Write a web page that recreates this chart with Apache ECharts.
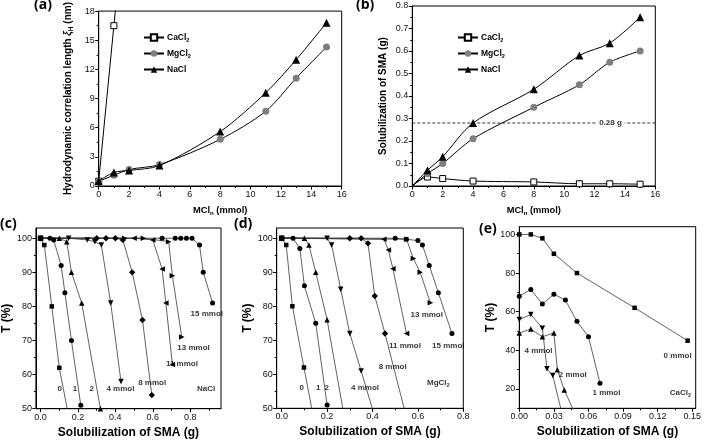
<!DOCTYPE html>
<html><head><meta charset="utf-8">
<script src="https://cdn.jsdelivr.net/npm/echarts@6/dist/echarts.min.js"></script>
<style>html,body{margin:0;padding:0;background:#fff}#c{width:704px;height:440px}</style>
</head><body><div id="c"></div><script>
// ---------- DATA ----------
const saltMmol = [0, 1, 2, 4, 8, 11, 13, 15];
// (a) hydrodynamic correlation length (nm)
const xiCaX = [0, 1, 1.2];
const xiCa  = [0.5, 16.5, 19.7];
const xiMg  = [0.5, 1.1, 1.7, 2.2, 4.8, 7.7, 11.1, 14.3];
const xiNa  = [0.5, 1.4, 1.6, 2.1, 5.6, 9.6, 13.0, 16.8];
// (b) solubilization of SMA (g)
const solCa = [0, 0.04, 0.033, 0.022, 0.018, 0.01, 0.01, 0.008];
const solMg = [0, 0.055, 0.10, 0.21, 0.35, 0.45, 0.55, 0.60];
const solNa = [0, 0.07, 0.13, 0.28, 0.43, 0.58, 0.635, 0.75];
const solLimit = 0.28;
const solLimitText = '0.28 g';
// (c) NaCl : transmittance vs solubilization
const naclNames = ['0', '1', '2', '4 mmol', '8 mmol', '11 mmol', '13 mmol', '15 mmol'];
const naclSol = [
  [0, 0.02, 0.06, 0.10, 0.16],
  [0, 0.05, 0.07, 0.11, 0.13, 0.165, 0.215],
  [0, 0.10, 0.14, 0.165, 0.22, 0.32],
  [0, 0.15, 0.25, 0.29, 0.325, 0.375, 0.43],
  [0, 0.30, 0.35, 0.40, 0.44, 0.49, 0.545, 0.595],
  [0, 0.50, 0.60, 0.65, 0.67, 0.705],
  [0, 0.45, 0.55, 0.685, 0.705, 0.755],
  [0, 0.65, 0.72, 0.75, 0.78, 0.81, 0.85, 0.87, 0.92]
];
const naclT = [
  [100, 98, 80, 62, 45],
  [100, 100, 99.5, 92, 84, 70, 51],
  [100, 100, 99, 90, 81, 50],
  [100, 100, 99.5, 99, 98, 81, 58],
  [100, 100, 100, 100, 99.5, 90, 76, 54],
  [100, 100, 99.5, 91, 81, 63],
  [100, 100, 100, 99, 89, 71],
  [100, 100, 100, 100, 100, 100, 98, 90, 81]
];
const naclTagText = ['0', '1', '2', '4 mmol', '8 mmol', '11 mmol', '13 mmol', '15 mmol', 'NaCl'];
const naclTagX = [0.103, 0.184, 0.273, 0.427, 0.597, 0.756, 0.818, 0.889, 0.885];
const naclTagT = [55.7, 55.7, 55.7, 55.7, 57.5, 63.1, 67.8, 77.8, 55.7];
// (d) MgCl2
const mgNames = ['0', '1', '2', '4 mmol', '8 mmol', '11 mmol', '13 mmol', '15 mmol'];
const mgSol = [
  [0, 0.02, 0.047, 0.098, 0.155],
  [0, 0.05, 0.08, 0.10, 0.15, 0.20],
  [0, 0.10, 0.12, 0.15, 0.20, 0.285],
  [0, 0.20, 0.22, 0.26, 0.30, 0.35, 0.43],
  [0, 0.30, 0.35, 0.38, 0.41, 0.455, 0.57],
  [0, 0.45, 0.47, 0.49, 0.55],
  [0, 0.55, 0.58, 0.61, 0.655],
  [0, 0.50, 0.55, 0.60, 0.62, 0.65, 0.69, 0.75]
];
const mgT = [
  [100, 98, 80, 62, 42],
  [100, 100, 97, 86, 75, 51],
  [100, 100, 98, 90, 76, 44],
  [100, 100, 98, 85, 72, 61, 43],
  [100, 100, 100, 98.5, 83, 72, 42],
  [100, 99.7, 96.5, 91, 72],
  [100, 99.7, 94, 90, 81],
  [100, 100, 99.7, 99.3, 98, 92, 84, 72]
];
const mgTagText = ['0', '1', '2', '4 mmol', '8 mmol', '11 mmol', '15 mmol', '13 mmol', 'MgCl2'];
const mgTagX = [0.088, 0.161, 0.198, 0.367, 0.489, 0.543, 0.734, 0.639, 0.69];
const mgTagT = [56.1, 56.1, 56.1, 56.1, 62.1, 68.4, 68.4, 77.6, 57.4];
// (e) CaCl2
const caNames = ['0 mmol', '1 mmol', '2 mmol', '4 mmol'];
const caSol = [
  [0, 0.01, 0.02, 0.03, 0.05, 0.10, 0.146],
  [0, 0.01, 0.02, 0.03, 0.04, 0.05, 0.06, 0.07],
  [0, 0.01, 0.02, 0.03, 0.033, 0.039, 0.05],
  [0, 0.01, 0.02, 0.024, 0.029, 0.04]
];
const caT = [
  [100, 100, 98, 90, 80, 62, 45],
  [68, 71.5, 64, 69, 66, 55, 47, 23],
  [49, 51, 47, 49, 30, 19.5, 5],
  [56, 58.5, 51.5, 30.5, 27, 0]
];
const caTagText = ['0 mmol', '1 mmol', '2 mmol', '4 mmol', 'CaCl2'];
const caTagX = [0.1373, 0.0756, 0.0464, 0.0167, 0.1398];
const caTagT = [37.2, 18.1, 27.2, 39.8, 17.8];

// ---------- BUILD ----------
const FONT = '"Liberation Sans", Arial, sans-serif';
const chart = echarts.init(document.getElementById('c'));
const grids = [
  {left: 98.7, top: 6, width: 243, height: 180},
  {left: 412.3, top: 6, width: 243, height: 180},
  {left: 34.7, top: 228, width: 186.3, height: 180.7},
  {left: 276.7, top: 228, width: 186.6, height: 180.3},
  {left: 519.3, top: 226.7, width: 180, height: 181.6}
];
function range(a, b, s) {
  const out = [];
  for (let k = Math.ceil(a / s - 1e-9); k * s <= b + 1e-9; k++) out.push(+(k * s).toFixed(6));
  return out;
}
function richFor(fs) {
  return {
    b: {fontSize: fs, fontWeight: 'bold', fontFamily: FONT, color: '#000', lineHeight: fs + 3},
    i: {fontSize: fs, fontWeight: 'bold', fontStyle: 'italic', fontFamily: FONT, color: '#000', lineHeight: fs + 3},
    s: {fontSize: fs * 0.65, fontWeight: 'bold', fontFamily: FONT, color: '#000', lineHeight: fs * 0.7, verticalAlign: 'bottom'}
  };
}
const xAxes = [], yAxes = [];
function mkAxis(isY, gi, min, max, step, minor, dec, name, gap, fs) {
  const list = isY ? yAxes : xAxes;
  const majors = range(min, max, step);
  list.push({
    type: 'value', gridIndex: gi, min: min, max: max, position: isY ? 'left' : 'bottom',
    axisLine: {show: true, onZero: false, lineStyle: {color: '#000', width: 1}},
    axisTick: {show: true, length: 3.5, lineStyle: {color: '#000', width: 1}, customValues: majors},
    axisLabel: {customValues: majors, formatter: v => (+v).toFixed(dec), fontSize: 9, color: '#111', fontFamily: FONT, margin: 4},
    splitLine: {show: false},
    name: name, nameLocation: 'middle', nameGap: gap,
    nameTextStyle: {rich: richFor(fs)}
  });
  const idx = list.length - 1;
  const minors = range(min, max, minor).filter(v => !majors.some(m => Math.abs(m - v) < 1e-9));
  list.push({
    type: 'value', gridIndex: gi, min: min, max: max, position: isY ? 'left' : 'bottom', offset: 0,
    axisLine: {show: false, onZero: false}, axisLabel: {show: false}, splitLine: {show: false},
    axisTick: {show: true, length: 2, lineStyle: {color: '#000', width: 1}, customValues: minors}
  });
  return idx;
}
const solName = '{b|Solubilization of SMA (g)}';
const tName = '{b|T (%)}';
const mclName = '{b|MCl}{s|n}{b| (mmol)}';
const ax = {
  a: [mkAxis(false, 0, 0, 16, 2, 1, 0, mclName, 18, 9.3),
      mkAxis(true, 0, 0, 18, 3, 1.5, 0, '{b|Hydrodynamic correlation length }{i|ξ}{s|H}{b| (nm)}', 24, 10)],
  b: [mkAxis(false, 1, 0, 16, 2, 1, 0, mclName, 18, 9.3),
      mkAxis(true, 1, 0, 0.8, 0.1, 0.05, 1, solName, 23, 10)],
  c: [mkAxis(false, 2, -0.025, 0.965, 0.2, 0.1, 1, solName, 16, 12),
      mkAxis(true, 2, 50, 103, 10, 5, 0, tName, 20, 12)],
  d: [mkAxis(false, 3, -0.022, 0.8, 0.2, 0.1, 1, solName, 16, 12),
      mkAxis(true, 3, 50, 103, 10, 5, 0, tName, 20, 12)],
  e: [mkAxis(false, 4, 0, 0.153, 0.03, 0.015, 2, solName, 16, 12),
      mkAxis(true, 4, 10, 104, 20, 10, 0, tName, 20, 12)]
};
const series = [];
const zip = (xs, ys) => xs.map((x, i) => [x, ys[i]]);
// (a) & (b)
const salts = [
  {name: 'CaCl2', symbol: 'rect', size: 6, item: {color: '#fff', borderColor: '#000', borderWidth: 1}},
  {name: 'MgCl2', symbol: 'circle', size: 7, item: {color: '#7f7f7f', borderColor: '#7f7f7f', borderWidth: 0}},
  {name: 'NaCl', symbol: 'triangle', size: 8, item: {color: '#000', borderColor: '#000', borderWidth: 0}}
];
const aData = [zip(xiCaX, xiCa), zip(saltMmol, xiMg), zip(saltMmol, xiNa)];
const bData = [zip(saltMmol, solCa), zip(saltMmol, solMg), zip(saltMmol, solNa)];
salts.forEach((s, k) => {
  series.push({type: 'line', name: s.name, xAxisIndex: ax.a[0], yAxisIndex: ax.a[1], data: aData[k],
    symbol: s.symbol, symbolSize: s.size, itemStyle: s.item, lineStyle: {color: '#000', width: 1},
    smooth: k === 0 ? false : 0.3, clip: true, z: 3 + k});
  series.push({type: 'line', name: s.name, xAxisIndex: ax.b[0], yAxisIndex: ax.b[1],
    data: bData[k].map((p, i) => i === 0 ? {value: p, symbolSize: 0} : p),
    symbol: s.symbol, symbolSize: s.size, itemStyle: s.item, lineStyle: {color: '#000', width: 1},
    smooth: 0.3, clip: true, z: 3 + k});
});
series.push({type: 'line', xAxisIndex: ax.b[0], yAxisIndex: ax.b[1], data: [[0, solLimit], [16, solLimit]],
  symbol: 'none', lineStyle: {color: '#000', width: 0.8, type: [3, 2]}, silent: true, z: 1});
function subRich(t) {
  return /Cl2$/.test(t) ? '{t|' + t.slice(0, -1) + '}{u|2}' : '{t|' + t + '}';
}
const tagRich = {
  t: {fontSize: 8, fontWeight: 'bold', fontFamily: FONT, color: '#000', lineHeight: 10},
  u: {fontSize: 5.5, fontWeight: 'bold', fontFamily: FONT, color: '#000', lineHeight: 5, verticalAlign: 'bottom'}
};
function tags(axp, txt, xs, ys, extra) {
  series.push({type: 'scatter', xAxisIndex: axp[0], yAxisIndex: axp[1], silent: true, z: 20,
    symbolSize: 0.1, itemStyle: {color: 'rgba(0,0,0,0)'},
    data: txt.map((t, i) => ({value: [xs[i], ys[i]], name: t})),
    label: Object.assign({show: true, position: 'inside', formatter: p => subRich(p.name), rich: tagRich}, extra || {})});
}
tags(ax.b, [solLimitText], [13.05], [solLimit], {backgroundColor: '#fff', padding: [0, 3]});
// (c)-(e)
const sym = ['rect', 'circle', 'triangle', 'triangle', 'rect', 'triangle', 'triangle', 'circle'];
const rot = [0, 0, 0, 180, 45, 90, -90, 0];
const sz = [4.5, 5, 5.5, 5.5, 4.5, 5.5, 5.5, 5];
function curves(axp, names, xs, ys) {
  names.forEach((n, k) => {
    series.push({type: 'line', name: n, xAxisIndex: axp[0], yAxisIndex: axp[1], data: zip(xs[k], ys[k]),
      symbol: sym[k], symbolRotate: rot[k], symbolSize: sz[k], itemStyle: {color: '#000'},
      lineStyle: {color: '#3a3a3a', width: 0.8}, clip: true, z: 3});
  });
}
curves(ax.c, naclNames, naclSol, naclT);
tags(ax.c, naclTagText, naclTagX, naclTagT);
curves(ax.d, mgNames, mgSol, mgT);
tags(ax.d, mgTagText, mgTagX, mgTagT);
curves(ax.e, caNames, caSol, caT);
tags(ax.e, caTagText, caTagX, caTagT);

const legendRich = {
  b: {fontSize: 8.5, fontWeight: 'bold', fontFamily: FONT, color: '#000', lineHeight: 11},
  s: {fontSize: 5.5, fontWeight: 'bold', fontFamily: FONT, color: '#000', lineHeight: 6, verticalAlign: 'bottom'}
};
const legendFmt = n => /Cl2$/.test(n) ? '{b|' + n.slice(0, -1) + '}{s|2}' : '{b|' + n + '}';
const mkLegend = (left) => ({left: left, top: 28, orient: 'vertical', itemWidth: 20, itemHeight: 8, itemGap: 6,
  data: salts.map(s => s.name), formatter: legendFmt, textStyle: {rich: legendRich, padding: [0, 0, 0, -2]},
  selectedMode: false});
const panelFont = 'bold 14px "Open Sans", "Liberation Sans", sans-serif';
const panel = (t, l, tp) => ({type: 'text', left: l, top: tp, style: {text: t, font: panelFont, fill: '#000'}});

chart.setOption({
  animation: false,
  grid: grids.map(g => Object.assign({show: true, borderColor: '#000', borderWidth: 1, backgroundColor: 'transparent'}, g)),
  xAxis: xAxes, yAxis: yAxes,
  legend: [mkLegend(138), mkLegend(452)],
  series: series,
  graphic: [panel('(a)', 34, -2), panel('(b)', 356, -2), panel('(c)', 0, 217), panel('(d)', 234, 217), panel('(e)', 479, 222)]
});
</script></body></html>
